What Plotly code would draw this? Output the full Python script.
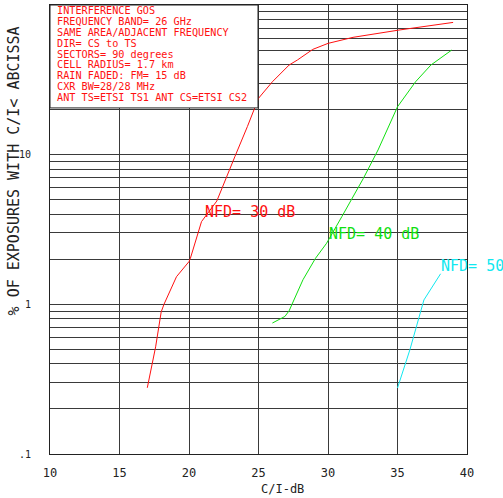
import math
import plotly.graph_objects as go

# ---- data ----
red_x = [17.0, 17.6, 18.0, 18.2, 19.1, 20.0, 20.1, 20.9, 22.0, 22.6, 23.3, 24.2, 25.0, 26.0, 27.2, 27.8, 28.9, 30.0, 31.8, 35.1, 36.9, 39.0]
red_y = [0.277, 0.52, 0.89, 1.0, 1.53, 1.93, 2.03, 3.57, 4.9, 6.8, 9.7, 15.4, 23.8, 30.7, 39.7, 42.9, 50.5, 55.4, 60.8, 68.0, 71.5, 76.5]

green_x = [26.0, 26.9, 27.2, 28.2, 29.1, 29.9, 31.0, 32.55, 33.6, 35.0, 36.3, 37.4, 38.9]
green_y = [0.75, 0.83, 0.905, 1.46, 2.03, 2.56, 3.86, 6.96, 10.75, 20.9, 30.7, 39.7, 50.0]

cyan_x = [35.0, 35.9, 36.9, 38.1]
cyan_y = [0.276, 0.50, 1.07, 1.6]

series_labels = ["NFD= 30 dB", "NFD= 40 dB", "NFD= 50 dB"]
label_x = [21.0, 29.95, 38.0]
label_y = [4.14, 2.95, 1.81]
series_colors = ["#ff1010", "#10e010", "#10e8f0"]

info_lines = [
    "INTERFERENCE GOS",
    "FREQUENCY BAND= 26 GHz",
    "SAME AREA/ADJACENT FREQUENCY",
    "DIR= CS to TS",
    "SECTORS= 90 degrees",
    "CELL RADIUS= 1.7 km",
    "RAIN FADED: FM= 15 dB",
    "CXR BW=28/28 MHz",
    "ANT TS=ETSI TS1 ANT CS=ETSI CS2",
]

x_ticks = [10, 15, 20, 25, 30, 35, 40]
y_ticks = [0.1, 1, 10]
y_ticktext = [".1", "1", "10"]
y_minor = [0.2, 0.3, 0.4, 0.5, 0.6, 0.7, 0.8, 0.9, 2, 3, 4, 5, 6, 7, 8, 9, 20, 30, 40, 50, 60, 70, 80, 90]

x_title = "C/I-dB"
y_title = "% OF EXPOSURES WITH C/I< ABCISSA"

FONT = "DejaVu Sans Mono"
GRID = "#3a3a3a"

fig = go.Figure()
for xs, ys, col in zip([red_x, green_x, cyan_x], [red_y, green_y, cyan_y], series_colors):
    fig.add_trace(go.Scatter(x=xs, y=ys, mode="lines", line=dict(color=col, width=1),
                             showlegend=False, hoverinfo="skip"))

annotations = []
for txt, lx, ly, col in zip(series_labels, label_x, label_y, series_colors):
    annotations.append(dict(text=txt, x=lx, y=math.log10(ly), xref="x", yref="y",
                            xanchor="left", yanchor="middle", showarrow=False,
                            font=dict(family=FONT, size=15, color=col)))

# info box text lines
H = 449.3
for i, line in enumerate(info_lines):
    cy = 6.0 + 10.8 * i
    annotations.append(dict(text=line, x=5 / 417, y=1 - cy / H, xref="paper", yref="paper",
                            xanchor="left", yanchor="middle", showarrow=False,
                            font=dict(family=FONT, size=10.2, color="#ff1010")))

annotations.append(dict(text=x_title, x=0.5, y=-(489 - 454.3) / H, xref="paper", yref="paper",
                        xanchor="left", yanchor="middle", showarrow=False,
                        font=dict(family=FONT, size=12, color="#222")))
annotations.append(dict(text=y_title, x=-(50 - 14) / 417, y=(454.3 - 171.5) / H,
                        xref="paper", yref="paper", xanchor="center", yanchor="middle",
                        textangle=-90, showarrow=False,
                        font=dict(family=FONT, size=15, color="#222")))

fig.add_shape(type="rect", xref="paper", yref="paper", x0=0, x1=(258 - 50) / 417,
              y0=1 - (108 - 5) / H, y1=1, line=dict(color="#222", width=1),
              fillcolor="white", layer="above")

fig.update_layout(
    width=503, height=498,
    margin=dict(l=50, r=36, t=5, b=44),
    paper_bgcolor="white", plot_bgcolor="white",
    annotations=annotations,
    xaxis=dict(range=[10, 40], tickvals=x_ticks, ticks="", showgrid=True, gridcolor=GRID,
               gridwidth=1, showline=True, linecolor="#222", linewidth=1, mirror=True,
               zeroline=False, tickfont=dict(family=FONT, size=12, color="#222"),
               ticklabelstandoff=8),
    yaxis=dict(type="log", range=[-1, 2], tickvals=y_ticks, ticktext=y_ticktext, ticks="",
               showgrid=True, gridcolor=GRID, gridwidth=1, showline=True, linecolor="#222",
               linewidth=1, mirror=True, zeroline=False,
               tickfont=dict(family=FONT, size=10, color="#222"), ticklabelstandoff=16,
               minor=dict(tickvals=y_minor, showgrid=True, gridcolor=GRID, gridwidth=1, ticks="")),
)

fig.write_html("out.html", post_script="document.body.style.margin='0';",
               config={"displayModeBar": False})
